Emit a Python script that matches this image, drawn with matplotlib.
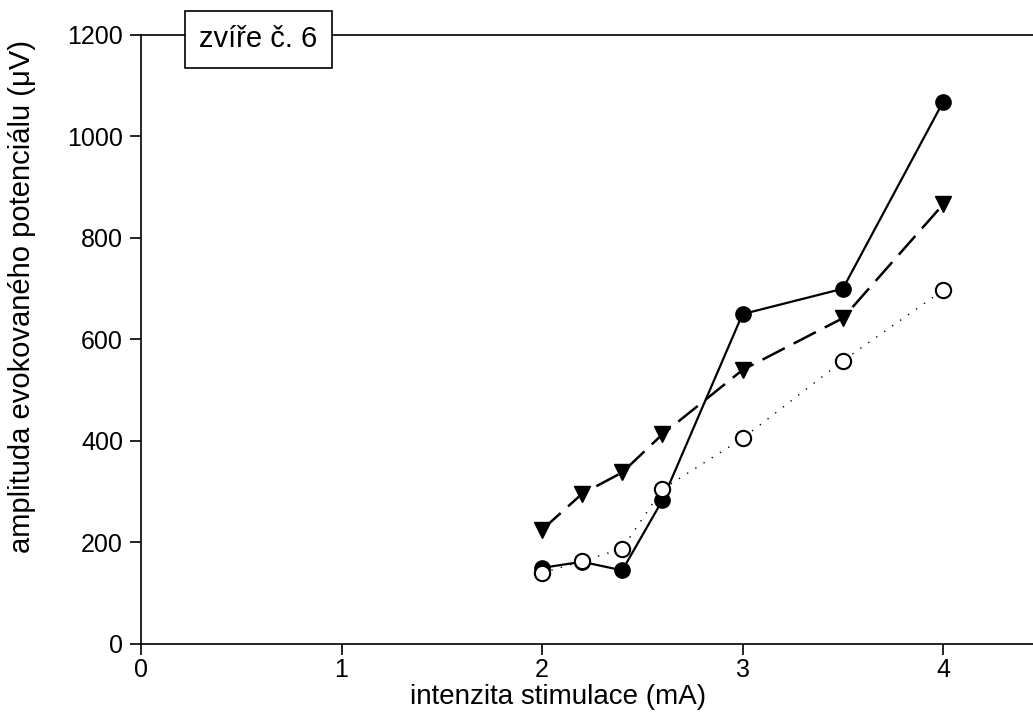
import matplotlib
matplotlib.use("Agg")
from matplotlib import pyplot as plt

plt.rcParams['font.family'] = ['Liberation Sans', 'DejaVu Sans']

# intenzita stimulace (mA)
proud = [2.0, 2.2, 2.4, 2.6, 3.0, 3.5, 4.0]
# amplitudy (uV) pro tri serie
plne_kruhy = [150, 162, 145, 283, 650, 700, 1068]
trojuhelniky = [225, 296, 338, 413, 540, 642, 866]
prazdne_kruhy = [140, 163, 188, 305, 405, 558, 697]

x_ticks = [0, 1, 2, 3, 4]
y_ticks = [0, 200, 400, 600, 800, 1000, 1200]

fig = plt.figure(figsize=(10.33, 7.2), dpi=100)
ax = fig.add_axes([0.1365, 0.1056, 0.8735, 0.8458])

ax.plot(proud, plne_kruhy, '-', color='black', lw=1.6,
        marker='o', ms=11, mfc='black', mec='black', zorder=3)
ax.plot(proud, trojuhelniky, color='black', lw=1.8, dashes=(10, 4),
        marker='v', ms=12, mfc='black', mec='black', zorder=2)
ax.plot(proud, prazdne_kruhy, color='black', lw=1.0, dashes=(1, 6),
        marker='o', ms=11, mfc='white', mec='black', mew=1.5, zorder=4)

ax.set_xlim(0, 4.5)
ax.set_ylim(0, 1200)
ax.set_xticks(x_ticks)
ax.set_yticks(y_ticks)
ax.tick_params(direction='out', length=8, width=1.2, labelsize=18)
ax.tick_params(axis='x', pad=2)
ax.tick_params(axis='y', pad=5)
ax.spines['right'].set_visible(False)
for s in ['left', 'bottom', 'top']:
    ax.spines[s].set_linewidth(1.2)

ax.set_xlabel('intenzita stimulace (mA)', fontsize=20)
ax.xaxis.set_label_coords(0.462, -0.065)
ax.set_ylabel('amplituda evokovaného potenciálu (\u03bcV)', fontsize=21)
ax.yaxis.set_label_coords(-0.116, 0.57)

ax.text(0.13, 0.993, 'zvíře č. 6', transform=ax.transAxes, fontsize=21,
        ha='center', va='center', zorder=10,
        bbox=dict(boxstyle='square,pad=0.5', fc='white', ec='black', lw=1.2))

fig.savefig('out.png', dpi=100)
